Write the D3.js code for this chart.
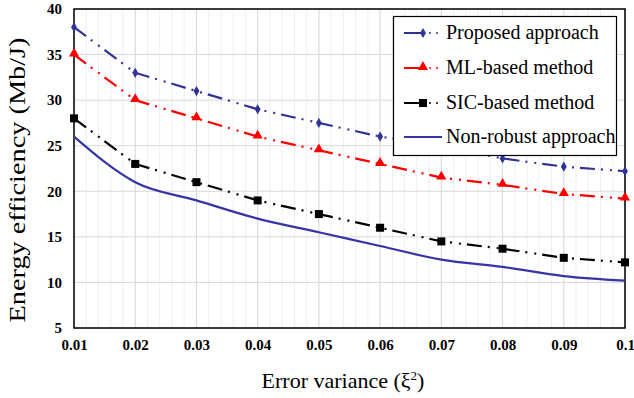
<!DOCTYPE html>
<html>
<head>
<meta charset="utf-8">
<script src="https://cdn.jsdelivr.net/npm/d3@7"></script>
<style>
  body { margin: 0; background: #fff; }
  svg text { font-family: "Liberation Serif", serif; }
</style>
</head>
<body>
<svg id="chart" width="634" height="398"></svg>
<script>
// values
var xValues = [0.01, 0.02, 0.03, 0.04, 0.05, 0.06, 0.07, 0.08, 0.09, 0.1];
var xTickLabels = ["0.01", "0.02", "0.03", "0.04", "0.05", "0.06", "0.07", "0.08", "0.09", "0.1"];
var yTicks = [5, 10, 15, 20, 25, 30, 35, 40];

var proposed  = [38, 33, 31, 29, 27.5, 26, 25, 23.6, 22.7, 22.2];
var mlBased   = [35, 30, 28, 26, 24.5, 23, 21.5, 20.7, 19.7, 19.2];
var sicBased  = [28, 23, 21, 19, 17.5, 16, 14.5, 13.7, 12.7, 12.2];
var nonRobust = [26, 21, 19, 17, 15.5, 14, 12.5, 11.7, 10.7, 10.2];

var seriesNames = ["Proposed approach", "ML-based method", "SIC-based method", "Non-robust approach"];

var dashDotDot = "15,6,2,7,2,6";
var series = [
  { name: seriesNames[0], values: proposed,  color: "#2f3399", marker: "diamond",  dash: dashDotDot },
  { name: seriesNames[1], values: mlBased,   color: "#ff0000", marker: "triangle", dash: dashDotDot },
  { name: seriesNames[2], values: sicBased,  color: "#000000", marker: "square",   dash: dashDotDot },
  { name: seriesNames[3], values: nonRobust, color: "#3535a8", marker: null,       dash: null }
];

var svg = d3.select("#chart");
var pLeft = 74, pRight = 625, pTop = 9, pBottom = 328;
var serif = "Liberation Serif";

var x = d3.scaleLinear().domain([0.01, 0.1]).range([pLeft, pRight]);
var y = d3.scaleLinear().domain([5, 40]).range([pBottom, pTop]);

// minor vertical grid
var minor = d3.range(0, 46).map(function(i) { return 0.01 + i * 0.002; });
svg.append("g").selectAll("line").data(minor).enter().append("line")
  .attr("x1", function(d) { return x(d); }).attr("x2", function(d) { return x(d); })
  .attr("y1", pTop).attr("y2", pBottom)
  .attr("stroke", "#efefef").attr("stroke-width", 1);

// major grid
svg.append("g").selectAll("line").data(xValues).enter().append("line")
  .attr("x1", function(d) { return x(d); }).attr("x2", function(d) { return x(d); })
  .attr("y1", pTop).attr("y2", pBottom)
  .attr("stroke", "#d9d9d9").attr("stroke-width", 1);
svg.append("g").selectAll("line").data(yTicks).enter().append("line")
  .attr("x1", pLeft).attr("x2", pRight)
  .attr("y1", function(d) { return y(d); }).attr("y2", function(d) { return y(d); })
  .attr("stroke", "#d9d9d9").attr("stroke-width", 1);

// frame
svg.append("rect")
  .attr("x", pLeft).attr("y", pTop)
  .attr("width", pRight - pLeft).attr("height", pBottom - pTop)
  .attr("fill", "none").attr("stroke", "#000").attr("stroke-width", 1.5);

// axes (labels only)
var xAxis = d3.axisBottom(x).tickValues(xValues)
  .tickFormat(function(d, i) { return xTickLabels[i]; }).tickSize(0).tickPadding(11);
var gx = svg.append("g").attr("transform", "translate(0," + pBottom + ")").call(xAxis);
gx.attr("font-family", serif);
gx.select(".domain").remove();
gx.selectAll("text").attr("font-size", 15).attr("font-weight", "bold").attr("fill", "#000");

var yAxis = d3.axisLeft(y).tickValues(yTicks).tickSize(0).tickPadding(12);
var gy = svg.append("g").attr("transform", "translate(" + pLeft + ",0)").call(yAxis);
gy.attr("font-family", serif);
gy.select(".domain").remove();
gy.selectAll("text").attr("font-size", 15).attr("font-weight", "bold").attr("fill", "#000");

// titles
svg.append("text").attr("x", 343).attr("y", 388)
  .attr("text-anchor", "middle").attr("font-size", 22).attr("font-family", serif)
  .html("Error variance (ξ<tspan dy='-8' font-size='13'>2</tspan><tspan dy='8'>)</tspan>");
svg.append("text")
  .attr("transform", "translate(25,180) rotate(-90)")
  .attr("text-anchor", "middle").attr("font-size", 23).attr("font-family", serif)
  .attr("textLength", 285).attr("lengthAdjust", "spacingAndGlyphs")
  .text("Energy efficiency (Mb/J)");

function drawMarker(g, type, cx, cy, color) {
  if (type === "diamond") {
    g.append("path").attr("d", d3.symbol(d3.symbolDiamond, 30)())
      .attr("transform", "translate(" + cx + "," + cy + ")").attr("fill", color);
  } else if (type === "triangle") {
    g.append("path").attr("d", d3.symbol(d3.symbolTriangle, 45)())
      .attr("transform", "translate(" + cx + "," + (cy - 1) + ")").attr("fill", color);
  } else if (type === "square") {
    g.append("rect").attr("x", cx - 4).attr("y", cy - 4).attr("width", 8).attr("height", 8)
      .attr("fill", color);
  }
}

var line = d3.line()
  .x(function(d, i) { return x(xValues[i]); })
  .y(function(d) { return y(d); });

series.forEach(function(s) {
  var g = svg.append("g");
  line.curve(s.marker ? d3.curveLinear : d3.curveMonotoneX);
  g.append("path")
    .attr("d", line(s.values))
    .attr("fill", "none").attr("stroke", s.color).attr("stroke-width", 2.2)
    .attr("stroke-dasharray", s.dash);
  if (s.marker) {
    s.values.forEach(function(v, i) { drawMarker(g, s.marker, x(xValues[i]), y(v), s.color); });
  }
});

// legend
var lg = svg.append("g");
lg.append("rect").attr("x", 393.5).attr("y", 16.5).attr("width", 223).attr("height", 139)
  .attr("fill", "#fff").attr("stroke", "#000").attr("stroke-width", 1.2);
var rowY = [33, 68, 103, 137];
series.forEach(function(s, i) {
  var yy = rowY[i];
  if (s.marker) {
    lg.append("line").attr("x1", 404).attr("x2", 423).attr("y1", yy).attr("y2", yy)
      .attr("stroke", s.color).attr("stroke-width", 2);
    lg.append("circle").attr("cx", 430).attr("cy", yy).attr("r", 1).attr("fill", s.color);
    lg.append("circle").attr("cx", 437).attr("cy", yy).attr("r", 1).attr("fill", s.color);
    drawMarker(lg, s.marker, 423, yy, s.color);
  } else {
    lg.append("line").attr("x1", 404).attr("x2", 442).attr("y1", yy).attr("y2", yy)
      .attr("stroke", s.color).attr("stroke-width", 2);
  }
  lg.append("text").attr("x", 446).attr("y", yy + 6).attr("font-size", 20)
    .attr("font-family", serif).text(s.name);
});
</script>
</body>
</html>
